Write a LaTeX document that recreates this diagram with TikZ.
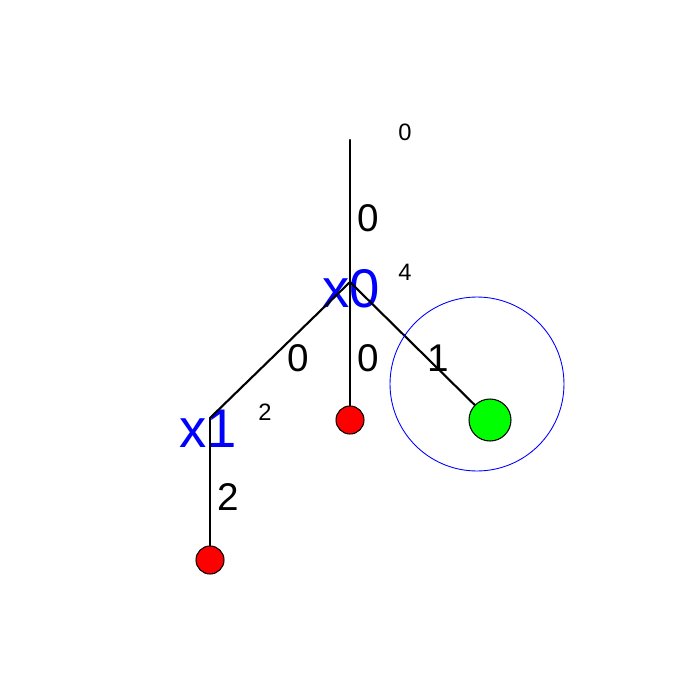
\documentclass[tikz,border=0pt]{standalone}
\usepackage{fontspec}
\setmainfont{Liberation Sans}
\tikzset{
  varlbl/.style={text=blue, inner sep=0pt, font=\fontsize{31}{31}\selectfont},
  wlbl/.style={inner sep=0pt, font=\fontsize{22}{22}\selectfont},
  cntlbl/.style={inner sep=0pt, font=\fontsize{13.5}{13.5}\selectfont},
  leaf/.style={circle, draw=black, line width=0.6pt, inner sep=0pt, minimum size=#1},
  edge/.style={line width=1.2pt}
}
\begin{document}
\begin{tikzpicture}[x=0.02cm, y=-0.02cm, line join=round, line cap=round]
    \useasboundingbox (0,0) rectangle (700,700);
    % variable names
    \node[varlbl] (x0name) at (351,289) {x0};
    \node[varlbl] (x1name) at (208,429) {x1};
    % tree points
    \coordinate (top) at (350,140);
    \coordinate (x0) at (350,282);
    \coordinate (x1) at (210,418);
    % edges
    \draw[edge] (top) -- (x0);
    \draw[edge] (x0) -- (x1);
    \draw[edge] (x0) -- (350,420) coordinate (midend);
    \draw[edge] (x0) -- (490,420) coordinate (rightend);
    \draw[edge] (x1) -- (210,560) coordinate (lowend);
    % leaves
    \node[leaf=0.56cm, fill=red] (leafmid) at (midend) {};
    \node[leaf=0.84cm, fill=green] (leafright) at (rightend) {};
    \node[leaf=0.56cm, fill=red] (leaflow) at (lowend) {};
    \draw[blue, line width=0.5pt] (477,384) circle [radius=1.74cm];
    % counts and weights
    \node[cntlbl] (ctop) at (405,132) {0};
    \node[cntlbl] (cx0) at (405,272) {4};
    \node[cntlbl] (cx1) at (265,412) {2};
    \node[wlbl] (wtop) at (368,218) {0};
    \node[wlbl] (wleft) at (298,358) {0};
    \node[wlbl] (wmid) at (368,358) {0};
    \node[wlbl] (wright) at (438,358) {1};
    \node[wlbl] (wlow) at (228,497) {2};
\end{tikzpicture}
\end{document}
